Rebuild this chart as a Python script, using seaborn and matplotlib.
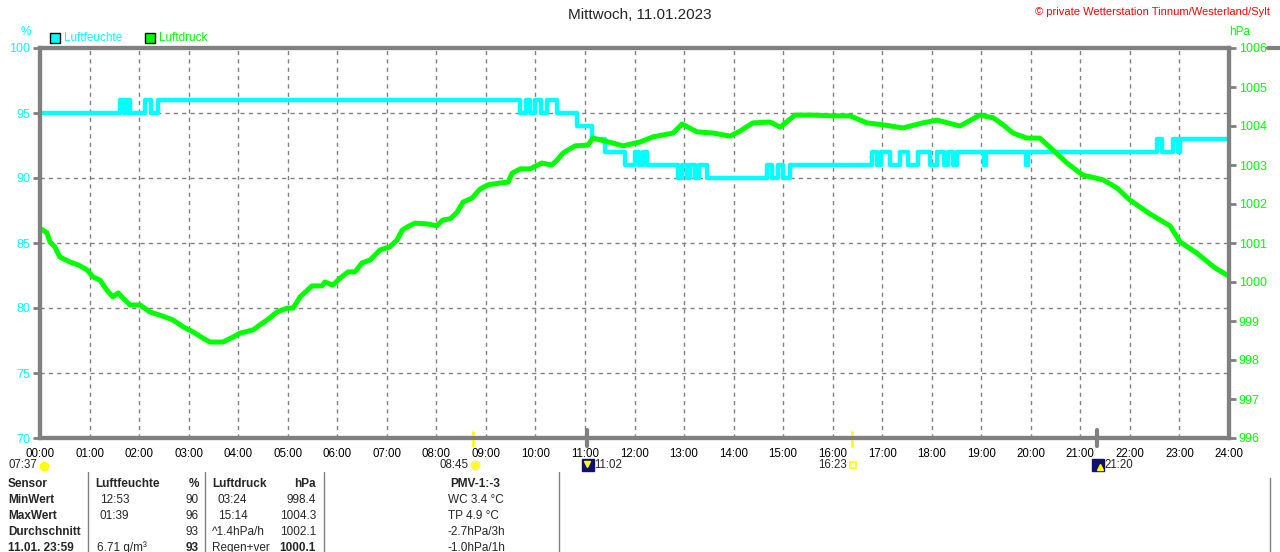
import numpy as np
import pandas as pd
import seaborn as sns
import matplotlib.pyplot as plt
from matplotlib.lines import Line2D

# Luftfeuchte (%), Stufenwerte: Zeitpunkt (h) und Wert ab diesem Zeitpunkt
hum_time = [0.00, 1.62, 1.70, 1.76, 1.82, 2.12, 2.25, 2.38, 9.69, 9.80, 9.90, 10.00,
            10.12, 10.24, 10.44, 10.84, 11.14, 11.40, 11.81, 12.01, 12.09, 12.17, 12.25,
            12.88, 12.95, 13.05, 13.12, 13.22, 13.30, 13.46, 14.67, 14.77, 14.90, 15.00,
            15.14, 16.79, 16.90, 16.98, 17.16, 17.36, 17.52, 17.72, 17.96, 18.11, 18.25,
            18.33, 18.42, 18.51, 19.05, 19.10, 19.90, 19.95, 22.55, 22.65, 22.87, 22.97,
            23.01, 24.00]
hum_val = [95, 96, 95, 96, 95, 96, 95, 96, 95, 96, 95, 96,
           95, 96, 95, 94, 93, 92, 91, 92, 91, 92, 91,
           90, 91, 90, 91, 90, 91, 90, 91, 90, 91, 90,
           91, 92, 91, 92, 91, 92, 91, 92, 91, 92, 91,
           92, 91, 92, 91, 92, 91, 92, 93, 92, 93, 92,
           93, 93]

# Luftdruck (hPa)
pres_time = [0.00, 0.14, 0.20, 0.30, 0.40, 0.61, 0.77, 0.95, 1.07, 1.21, 1.35, 1.47,
             1.58, 1.68, 1.82, 2.02, 2.22, 2.42, 2.68, 2.89, 3.09, 3.29, 3.43, 3.69,
             3.90, 4.04, 4.30, 4.44, 4.64, 4.78, 4.99, 5.11, 5.25, 5.49, 5.69, 5.75,
             5.91, 6.06, 6.22, 6.36, 6.50, 6.66, 6.86, 7.06, 7.21, 7.31, 7.41, 7.57,
             7.81, 8.01, 8.13, 8.28, 8.42, 8.54, 8.72, 8.88, 9.04, 9.29, 9.45, 9.53,
             9.69, 9.89, 10.13, 10.33, 10.44, 10.56, 10.80, 11.06, 11.16, 11.57, 11.77,
             12.11, 12.37, 12.78, 12.96, 13.26, 13.58, 13.93, 14.13, 14.39, 14.74, 14.94,
             15.24, 15.60, 16.01, 16.35, 16.69, 17.02, 17.42, 17.82, 18.11, 18.57, 18.97,
             19.24, 19.44, 19.64, 19.92, 20.18, 20.45, 20.73, 21.05, 21.46, 21.74, 22.00,
             22.41, 22.81, 23.01, 23.35, 23.72, 24.00]
pres_val = [1001.38, 1001.26, 1001.03, 1000.90, 1000.64, 1000.51, 1000.44, 1000.31, 1000.13,
            1000.05, 999.79, 999.62, 999.72, 999.58, 999.41, 999.41, 999.23, 999.15, 999.03,
            998.85, 998.72, 998.56, 998.46, 998.46, 998.59, 998.69, 998.77, 998.90, 999.08,
            999.23, 999.33, 999.33, 999.62, 999.90, 999.90, 1000.00, 999.92, 1000.10, 1000.26,
            1000.26, 1000.49, 1000.56, 1000.82, 1000.90, 1001.08, 1001.33, 1001.41, 1001.51,
            1001.49, 1001.44, 1001.59, 1001.62, 1001.79, 1002.05, 1002.15, 1002.38, 1002.49,
            1002.54, 1002.56, 1002.79, 1002.90, 1002.90, 1003.05, 1003.00, 1003.13, 1003.31,
            1003.49, 1003.51, 1003.69, 1003.56, 1003.49, 1003.59, 1003.72, 1003.82, 1004.05,
            1003.85, 1003.82, 1003.74, 1003.87, 1004.08, 1004.10, 1003.97, 1004.28, 1004.28,
            1004.26, 1004.26, 1004.08, 1004.03, 1003.95, 1004.08, 1004.15, 1004.00, 1004.28,
            1004.21, 1004.03, 1003.82, 1003.69, 1003.69, 1003.38, 1003.05, 1002.74, 1002.62,
            1002.41, 1002.10, 1001.74, 1001.44, 1001.03, 1000.74, 1000.36, 1000.15]

hour_labels = [f"{h:02d}:00" for h in range(25)]

# Sonnen-/Mondzeiten
sun_times = ["07:37", "08:45", "11:02", "16:23", "21:20"]

# Tabelle
tab_header = ["Sensor", "Luftfeuchte", "%", "Luftdruck", "hPa", "PMV-1:-3"]
tab_rows = [
    ["MinWert", "12:53", "90", "03:24", "998.4", "WC 3.4 °C"],
    ["MaxWert", "01:39", "96", "15:14", "1004.3", "TP 4.9 °C"],
    ["Durchschnitt", "", "93", "^1.4hPa/h", "1002.1", "-2.7hPa/3h"],
    ["11.01. 23:59", "6.71 g/m³", "93", "Regen+ver", "1000.1", "-1.0hPa/1h"],
]

cyan = "#00FFFF"
lime = "#00FF00"
grau = "#808080"

sns.set_style("white")
plt.rcParams['font.family'] = ['Liberation Sans', 'DejaVu Sans']
plt.rcParams['font.size'] = 8.5

W, H = 1280, 552
fig = plt.figure(figsize=(W / 100, H / 100), dpi=100)
fx = lambda px: px / W
fy = lambda py: 1 - py / H

ax = fig.add_axes([fx(40), fy(438), fx(1229) - fx(40), fy(48) - fy(438)])
ax2 = ax.twinx()

df_h = pd.DataFrame({"t": hum_time, "v": hum_val})
df_p = pd.DataFrame({"t": pres_time, "v": pres_val})
sns.lineplot(data=df_h, x="t", y="v", ax=ax, color=cyan, lw=3.2, drawstyle="steps-post")
sns.lineplot(data=df_p, x="t", y="v", ax=ax2, color=lime, lw=3.6)

ax.set_xlim(0, 24)
ax.set_ylim(70, 100)
ax2.set_ylim(996, 1006)
ax.set_xticks(range(25))
ax.set_xticklabels(hour_labels)
ax.set_yticks(range(70, 101, 5))
ax2.set_yticks(range(996, 1007))
for a in (ax, ax2):
    a.set_xlabel("")
    a.set_ylabel("")
ax.grid(True, color=grau, linestyle=(0, (3, 3)), linewidth=1)
ax.set_axisbelow(True)
ax.tick_params(axis="y", colors=grau, labelcolor=cyan, length=5, width=2, pad=2, labelsize=9)
ax.tick_params(axis="x", colors=grau, labelcolor="black", length=2, width=1, pad=5, labelsize=8.3)
ax2.tick_params(axis="y", colors=grau, labelcolor=lime, length=5, width=2, pad=2, labelsize=9)
for a in (ax, ax2):
    for s in a.spines.values():
        s.set_color(grau)
        s.set_linewidth(3)

# oberer Rahmen rechts weitergeführt
fig.add_artist(Line2D([fx(1268), fx(1280)], [fy(48), fy(48)], color=grau, lw=3))

# Texte oben
fig.text(0.5, fy(15), "Mittwoch, 11.01.2023", ha="center", va="center", fontsize=11)
fig.text(fx(1270), fy(12), "© private Wetterstation Tinnum/Westerland/Sylt", ha="right",
         va="center", color="red", fontsize=8)
fig.text(fx(26), fy(32), "%", ha="center", va="center", color=cyan, fontsize=8.5)
fig.text(fx(1240), fy(32), "hPa", ha="center", va="center", color=lime, fontsize=8.5)
fig.text(fx(64), fy(38), "Luftfeuchte", ha="left", va="center", color=cyan, fontsize=8.5)
fig.text(fx(159), fy(38), "Luftdruck", ha="left", va="center", color=lime, fontsize=8.5)
fig.add_artist(Line2D([fx(55)], [fy(38)], marker="s", ms=7, mfc=cyan, mec="black", mew=1))
fig.add_artist(Line2D([fx(150)], [fy(38)], marker="s", ms=7, mfc=lime, mec="black", mew=1))

# Sonnenauf-/untergang, Mondzeiten
def zeit_h(s):
    h, m = s.split(":")
    return int(h) + int(m) / 60

for s in sun_times:
    t = zeit_h(s)
    if s in ("08:45", "16:23"):
        ax.plot([t, t], [69.4, 70.5], color="yellow", lw=2, clip_on=False, zorder=5)
    elif s in ("11:02", "21:20"):
        ax.plot([t, t], [69.4, 70.6], color=grau, lw=3, clip_on=False, zorder=5)

zs = 8.3
fig.text(fx(37), fy(465), "07:37", ha="right", va="center", fontsize=zs)
fig.add_artist(Line2D([fx(44)], [fy(466)], marker="o", ms=6, mfc="yellow", mec="yellow"))
fig.text(fx(468), fy(465), "08:45", ha="right", va="center", fontsize=zs)
fig.add_artist(Line2D([fx(475)], [fy(465)], marker="o", ms=6, mfc="yellow", mec="#ffee88", mew=1.5))
fig.add_artist(Line2D([fx(588)], [fy(465)], marker="s", ms=8, mfc="#101070", mec="#101070"))
fig.add_artist(Line2D([fx(587)], [fy(464)], marker="v", ms=4, mfc="yellow", mec="yellow"))
fig.text(fx(594), fy(465), "11:02", ha="left", va="center", fontsize=zs)
fig.text(fx(847), fy(465), "16:23", ha="right", va="center", fontsize=zs)
fig.add_artist(Line2D([fx(853)], [fy(465)], marker="s", ms=5, mfc="white", mec="yellow", mew=1.2))
fig.add_artist(Line2D([fx(1098)], [fy(465)], marker="s", ms=8, mfc="#101070", mec="#101070"))
fig.add_artist(Line2D([fx(1100)], [fy(467)], marker="^", ms=4, mfc="yellow", mec="yellow"))
fig.text(fx(1104), fy(465), "21:20", ha="left", va="center", fontsize=zs)

# Tabelle unten
for xs in (88, 205, 324, 559):
    fig.add_artist(Line2D([fx(xs), fx(xs)], [fy(472), fy(552)], color=grau, lw=1))
fig.add_artist(Line2D([fx(1270), fx(1270)], [fy(478), fy(552)], color=grau, lw=1))

row_y = [484, 500, 516, 532, 548]
kopf = dict(fontsize=8.5, fontweight="bold", va="center")
fig.text(fx(8), fy(row_y[0]), tab_header[0], ha="left", **kopf)
fig.text(fx(95), fy(row_y[0]), tab_header[1], ha="left", **kopf)
fig.text(fx(199), fy(row_y[0]), tab_header[2], ha="right", **kopf)
fig.text(fx(212), fy(row_y[0]), tab_header[3], ha="left", **kopf)
fig.text(fx(316), fy(row_y[0]), tab_header[4], ha="right", **kopf)
fig.text(fx(475), fy(row_y[0]), tab_header[5], ha="center", **kopf)

for i, row in enumerate(tab_rows):
    y = fy(row_y[i + 1])
    last = i == len(tab_rows) - 1
    fig.text(fx(8), y, row[0], ha="left", va="center", fontsize=8.5, fontweight="bold")
    fig.text(fx(100) if row[1] != "6.71 g/m³" else fx(97), y, row[1], ha="left", va="center", fontsize=8.5)
    fig.text(fx(199), y, row[2], ha="right", va="center", fontsize=8.5,
             fontweight="bold" if last else "normal")
    fig.text(fx(218) if ":" in row[3] else fx(212), y, row[3], ha="left", va="center", fontsize=8.5)
    fig.text(fx(316), y, row[4], ha="right", va="center", fontsize=8.5,
             fontweight="bold" if last else "normal")
    fig.text(fx(448), y, row[5], ha="left", va="center", fontsize=8.5)

fig.savefig("out.png", dpi=100, facecolor="white")
